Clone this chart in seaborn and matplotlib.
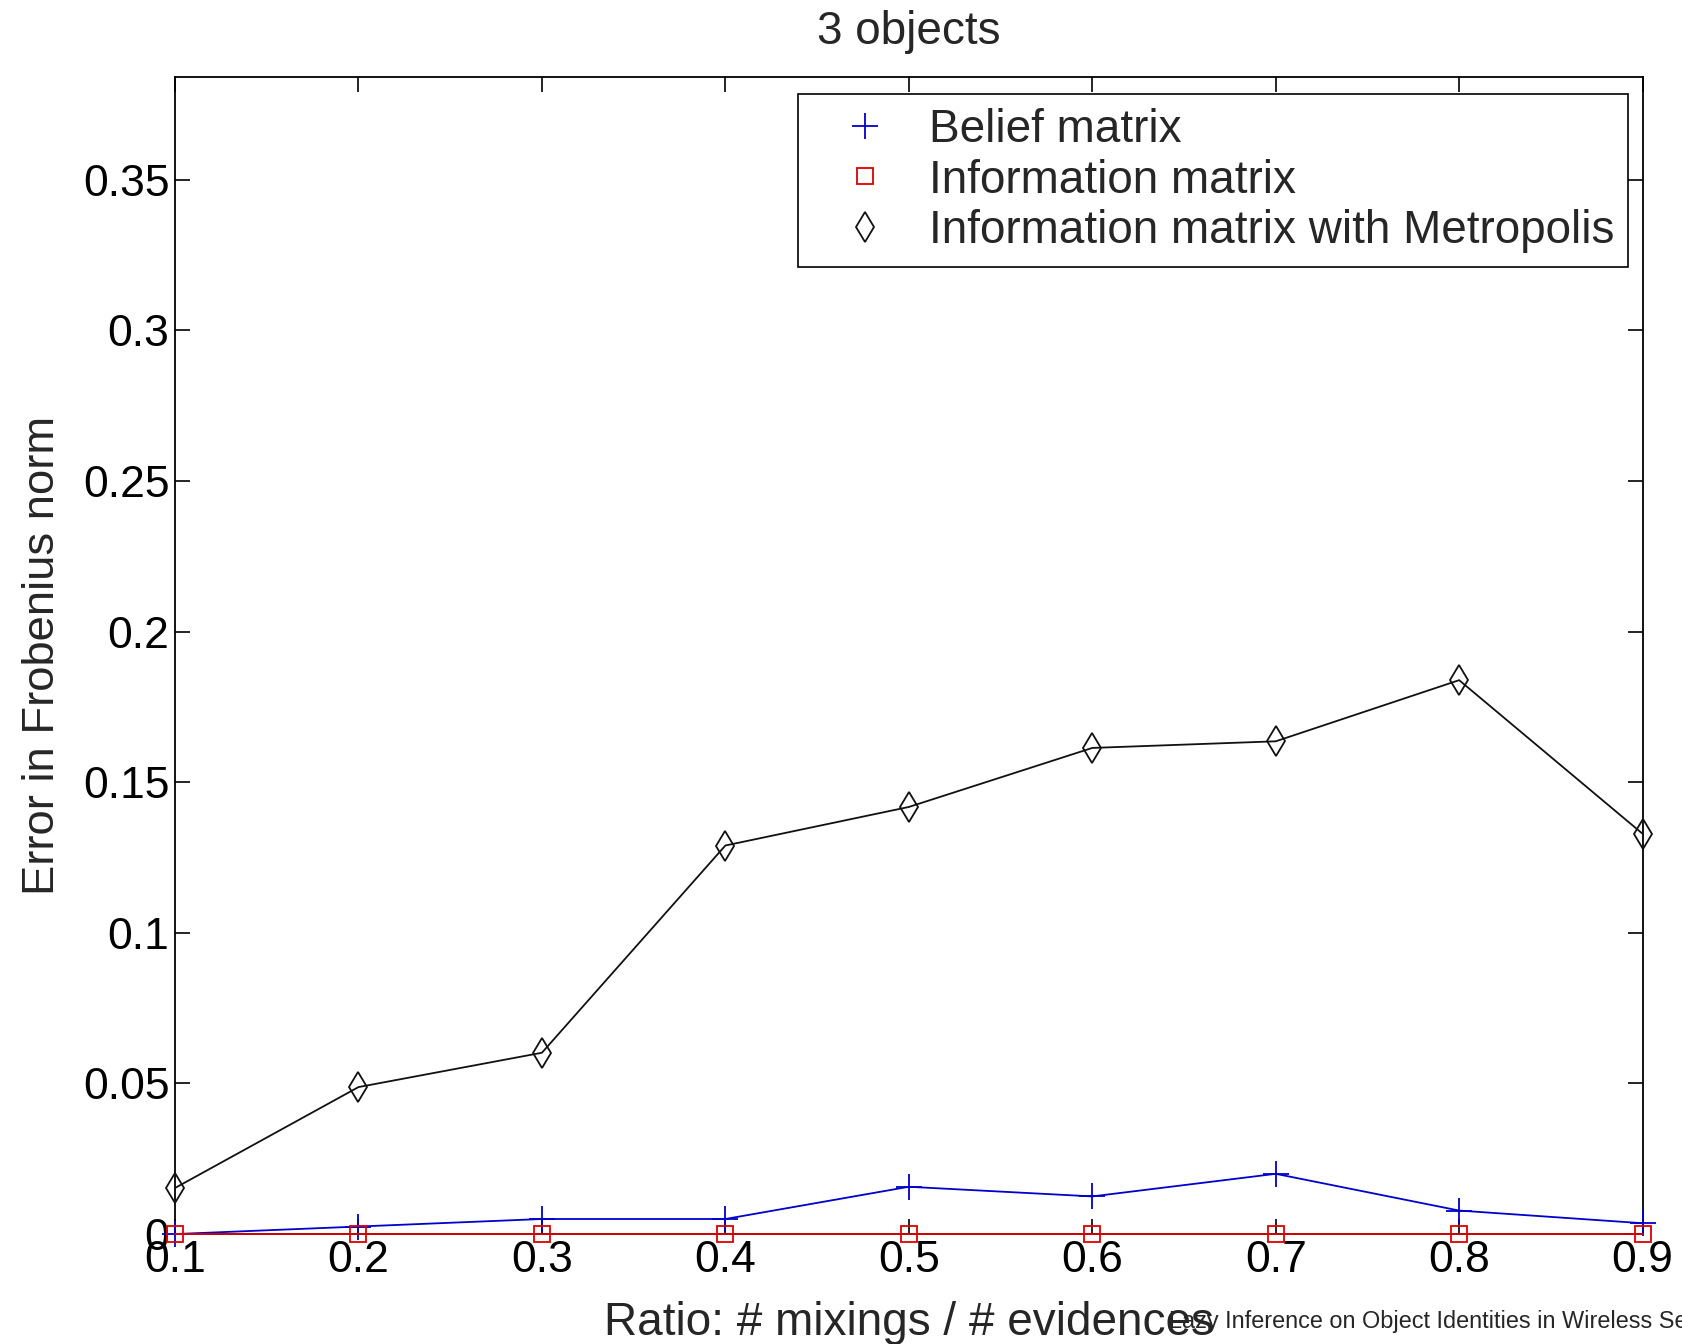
import matplotlib
matplotlib.use("Agg")
import matplotlib.pyplot as plt
import seaborn as sns
import numpy as np

# ---- data ----
ratios = [0.1, 0.2, 0.3, 0.4, 0.5, 0.6, 0.7, 0.8, 0.9]
belief = [0.0, 0.0025, 0.005, 0.005, 0.0157, 0.0125, 0.0200, 0.0078, 0.0036]
information = [0.0, 0.0, 0.0, 0.0, 0.0, 0.0, 0.0, 0.0, 0.0]
metropolis = [0.0153, 0.0488, 0.0602, 0.1290, 0.1418, 0.1614, 0.1636, 0.1839, 0.1329]
series_names = ["Belief matrix", "Information matrix", "Information matrix with Metropolis"]
xticks = [0.1, 0.2, 0.3, 0.4, 0.5, 0.6, 0.7, 0.8, 0.9]
xtick_labels = ["0.1", "0.2", "0.3", "0.4", "0.5", "0.6", "0.7", "0.8", "0.9"]
yticks = [0, 0.05, 0.1, 0.15, 0.2, 0.25, 0.3, 0.35]
ytick_labels = ["0", "0.05", "0.1", "0.15", "0.2", "0.25", "0.3", "0.35"]
title = "3 objects"
xlabel = "Ratio: # mixings / # evidences"
ylabel = "Error in Frobenius norm"
footer = "Lazy Inference on Object Identities in Wireless Sensor Networks"

sns.set_style("ticks")
plt.rcParams['font.family'] = ['Liberation Sans', 'DejaVu Sans']

fig = plt.figure(figsize=(16.83, 13.44), dpi=100)
ax = fig.add_axes([0.104, 0.0818, 0.872, 0.861])

blue = "#0000cc"
red = "#dd0000"
black = "#111111"
sns.lineplot(x=ratios, y=belief, ax=ax, color=blue, marker="+", markersize=19,
             markeredgecolor=blue, markeredgewidth=1.3, linewidth=1.3,
             label=series_names[0], clip_on=False, zorder=3)
sns.lineplot(x=ratios, y=information, ax=ax, color=red, marker="s", markersize=12,
             markerfacecolor="none", markeredgecolor=red, markeredgewidth=1.3,
             linewidth=1.3, label=series_names[1], clip_on=False, zorder=3)
sns.lineplot(x=ratios, y=metropolis, ax=ax, color=black, marker="d", markersize=15,
             markerfacecolor="none", markeredgecolor=black, markeredgewidth=1.3,
             linewidth=1.3, label=series_names[2], clip_on=False, zorder=3)

ax.set_xlim(0.1, 0.9)
ax.set_ylim(0, 0.3842)
ax.set_xticks(xticks)
ax.set_xticklabels(xtick_labels)
ax.set_yticks(yticks)
ax.set_yticklabels(ytick_labels)
for s in ax.spines.values():
    s.set_visible(True)
    s.set_color("black")
    s.set_linewidth(1.3)
ax.tick_params(direction="in", top=True, right=True, length=11, width=1.2,
               labelsize=32, pad=4, colors="black")
ax.set_title(title, fontsize=33, pad=24)
ax.set_xlabel(xlabel, fontsize=33, labelpad=15)
ax.set_ylabel(ylabel, fontsize=32.7, labelpad=14)

leg = ax.legend(loc="upper right", bbox_to_anchor=(0.9903, 0.9853), fontsize=33,
                frameon=True, fancybox=False, edgecolor="black", framealpha=1,
                handlelength=2.3, handletextpad=0.26, borderpad=0.3, labelspacing=0.15,
                borderaxespad=0)
leg.get_frame().set_linewidth(1.2)
for h in leg.get_lines():
    h.set_linestyle("none")

fig.text(0.6945, 0.0085, footer, fontsize=16.9, ha="left", va="bottom")

fig.savefig("out.png", dpi=100)
